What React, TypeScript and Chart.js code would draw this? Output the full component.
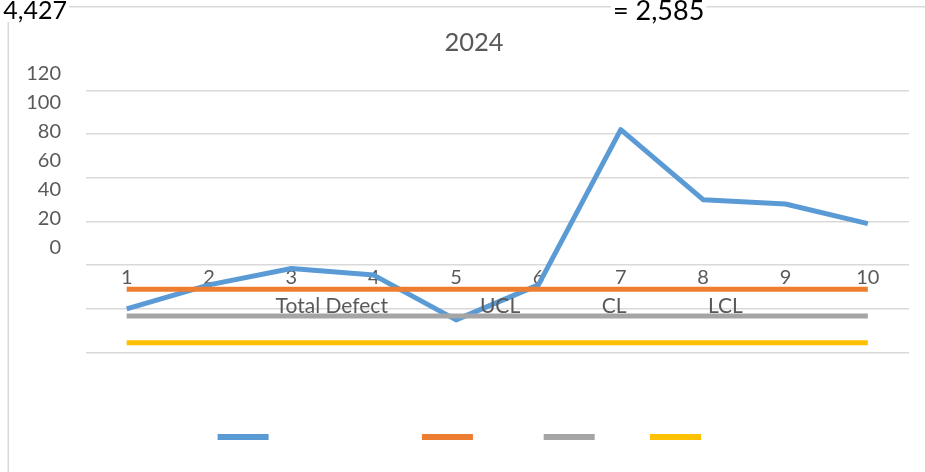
import React, { useEffect, useRef } from "react";
import { Chart, registerables } from "chart.js";

Chart.register(...registerables);

// ---- data ----
const categories = ["1", "2", "3", "4", "5", "6", "7", "8", "9", "10"];
const totalDefect = [20, 31, 38.5, 35.5, 15, 31, 102, 70, 68, 59];
const ucl = [29, 29, 29, 29, 29, 29, 29, 29, 29, 29];
const cl = [16.8, 16.8, 16.8, 16.8, 16.8, 16.8, 16.8, 16.8, 16.8, 16.8];
const lcl = [4.6, 4.6, 4.6, 4.6, 4.6, 4.6, 4.6, 4.6, 4.6, 4.6];
const seriesNames = ["Total Defect", "UCL", "CL", "LCL"];
const seriesColors = ["#5B9BD5", "#ED7D31", "#A5A5A5", "#FFC000"];
const yTickLabels = ["0", "20", "40", "60", "80", "100", "120"];
const chartTitle = "2024";
const cornerTexts = ["4,427", "= 2,585"];

const FONT = "Lato, 'Open Sans', sans-serif";
const TEXT = "#595959";
const GRID = "#d9d9d9";

const overlayPlugin = {
  id: "overlay",
  beforeDraw(chart: any) {
    const ctx = chart.ctx;
    ctx.save();
    ctx.fillStyle = "#ffffff";
    ctx.fillRect(0, 0, chart.width, chart.height);
    ctx.strokeStyle = GRID;
    ctx.lineWidth = 1.5;
    ctx.beginPath();
    ctx.moveTo(8.25, chart.height);
    ctx.lineTo(8.25, 6.75);
    ctx.lineTo(chart.width, 6.75);
    ctx.stroke();
    ctx.restore();
  },
  afterDraw(chart: any) {
    const ctx = chart.ctx;
    const area = chart.chartArea;
    ctx.save();
    // title
    ctx.font = `25.5px ${FONT}`;
    ctx.fillStyle = TEXT;
    ctx.textAlign = "center";
    ctx.textBaseline = "middle";
    ctx.fillText(chartTitle, 474, 43);

    // displaced value-axis labels
    ctx.font = `20px ${FONT}`;
    ctx.textAlign = "right";
    yTickLabels.forEach((t, i) => ctx.fillText(t, 61, area.top + 157 - i * 29));

    // displaced legend texts
    const legend = chart.legend;
    ctx.textAlign = "left";
    ctx.font = `21px ${FONT}`;
    legend.legendHitBoxes.forEach((hb: any, i: number) => {
      ctx.fillText(seriesNames[i], hb.left + 58, hb.top + 10.5 - 131);
    });

    // corner texts
    ctx.font = `25px ${FONT}`;
    ctx.textBaseline = "middle";
    ctx.textAlign = "right";
    const w1 = ctx.measureText(cornerTexts[0]).width;
    ctx.fillStyle = "#fff";
    ctx.fillRect(67 - w1 - 2, 0, w1 + 4, 22);
    ctx.fillStyle = "#000";
    ctx.fillText(cornerTexts[0], 67, 11);
    ctx.font = `27px ${FONT}`;
    ctx.textAlign = "left";
    const w2 = ctx.measureText(cornerTexts[1]).width;
    ctx.fillStyle = "#fff";
    ctx.fillRect(611, 0, w2 + 4, 23);
    ctx.fillStyle = "#000";
    ctx.fillText(cornerTexts[1], 613, 11);
    ctx.restore();
  },
};

export default function App() {
  const ref = useRef<HTMLCanvasElement>(null);
  useEffect(() => {
    const seriesData = [totalDefect, ucl, cl, lcl];
    const chart = new Chart(ref.current as HTMLCanvasElement, {
      type: "line",
      data: {
        labels: categories,
        datasets: seriesNames.map((name, i) => ({
          label: name,
          data: seriesData[i],
          borderColor: seriesColors[i],
          backgroundColor: seriesColors[i],
          borderWidth: 5,
          pointRadius: 0,
          pointHoverRadius: 0,
          tension: 0,
          borderJoinStyle: "round",
          borderCapStyle: "butt",
          fill: false,
          order: 4 - i,
        })),
      },
      options: {
        responsive: false,
        animation: false,
        events: [],
        layout: { padding: { left: 55, right: 16, top: 90.3, bottom: 14.5 } },
        plugins: {
          title: { display: false },
          legend: {
            position: "bottom",
            title: {
              display: true,
              text: "",
              font: { size: 12, lineHeight: 1.2 },
              padding: { top: 39.4, bottom: 0 },
            },
            labels: {
              boxWidth: 51,
              boxHeight: 6,
              padding: 20,
              color: "rgba(0,0,0,0)",
              font: { family: FONT, size: 21 },
              generateLabels: (c: any) =>
                c.data.datasets.map((ds: any, i: number) => ({
                  text: i === 0 ? ds.label + "\u2002" : ds.label,
                  fillStyle: ds.borderColor,
                  strokeStyle: ds.borderColor,
                  fontColor: "rgba(0,0,0,0)",
                  lineWidth: 0,
                  hidden: false,
                  datasetIndex: i,
                })),
            },
          },
          tooltip: { enabled: false },
        },
        scales: {
          x: {
            position: { y: 40 } as any,
            offset: true,
            z: 1,
            grid: { display: false, drawTicks: false },
            border: { display: false },
            ticks: {
              color: TEXT,
              font: { family: FONT, size: 20 },
              padding: 0,
              maxRotation: 0,
              autoSkip: false,
            },
          },
          y: {
            min: 0,
            max: 120,
            afterFit: (s: any) => {
              s.width = 30.5;
            },
            ticks: { display: false, stepSize: 20 },
            grid: { color: GRID, lineWidth: 1.5, drawTicks: false },
            border: { display: false },
          },
        },
      },
      plugins: [overlayPlugin],
    } as any);
    return () => chart.destroy();
  }, []);
  return (
    <div
      style={{
        position: "fixed",
        left: 0,
        top: 0,
        width: 925,
        height: 472,
        background: "#fff",
      }}
    >
      <canvas ref={ref} width={925} height={472} style={{ display: "block" }} />
    </div>
  );
}
